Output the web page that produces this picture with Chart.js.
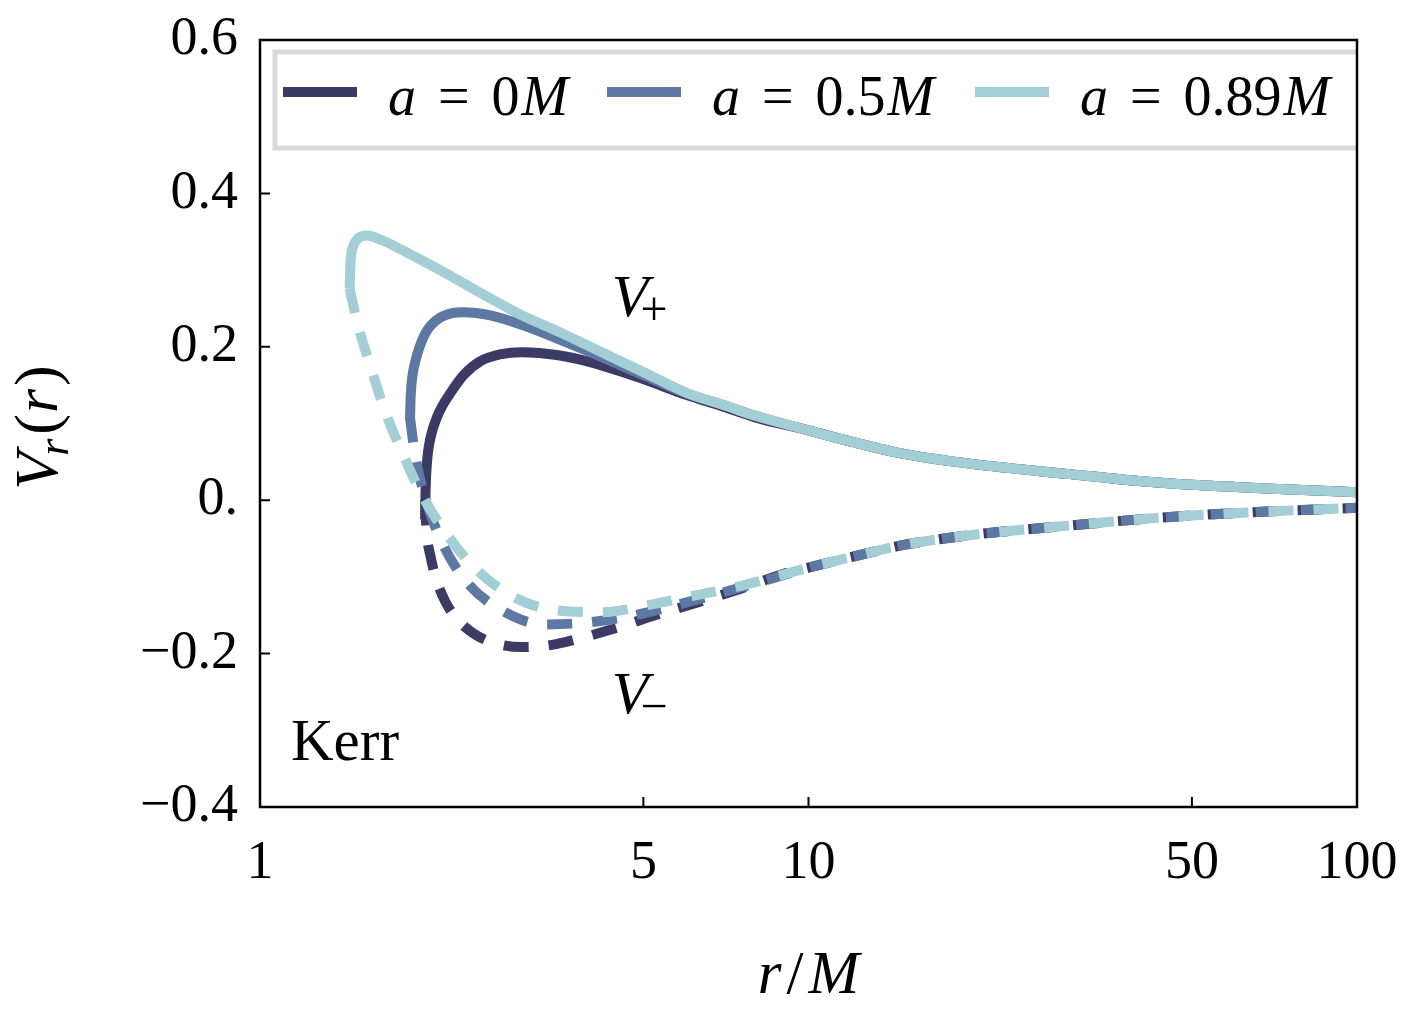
<!DOCTYPE html>
<html>
<head>
<meta charset="utf-8">
<script src="https://cdn.jsdelivr.net/npm/chart.js@4.4.1/dist/chart.umd.min.js"></script>
<style>
  html, body { margin: 0; padding: 0; background: #ffffff; }
  #chart { display: block; }
</style>
</head>
<body>
<canvas id="chart" width="1412" height="1027"></canvas>
<script>
// spins shown in the legend (units of M)
const spins = ['0', '0.5', '0.89'];
const colors = ['#3c3b66', '#5d78a2', '#a4ced6'];

// near-horizon parts (r/M, V)
const rPlus0 = [2.0, 2.003, 2.009, 2.019, 2.036, 2.062, 2.101, 2.146, 2.221, 2.35, 2.519, 2.738, 3.0, 3.5, 4, 5, 6, 7, 8];
const vPlus0 = [-0.025, 0.0065, 0.033, 0.055, 0.074, 0.091, 0.108, 0.122, 0.139, 0.163, 0.181, 0.190, 0.193, 0.189, 0.180, 0.158, 0.137, 0.122, 0.108];
const rMinus0 = [2.0, 2.01, 2.05, 2.1, 2.18, 2.3, 2.48, 2.7, 3.0, 3.3, 3.6, 4.35, 5.2, 6.3, 7.55, 9.1];
const vMinus0 = [0.0, -0.035, -0.076, -0.105, -0.133, -0.157, -0.176, -0.187, -0.1915, -0.190, -0.185, -0.169, -0.151, -0.133, -0.115, -0.095];

const rPlus05 = [1.877, 1.881, 1.888, 1.901, 1.921, 1.95, 2.015, 2.13, 2.24, 2.346, 2.63, 3.02, 3.5, 4, 5, 6, 7, 8];
const vPlus05 = [0.104, 0.130, 0.150, 0.167, 0.182, 0.198, 0.221, 0.238, 0.244, 0.245, 0.241, 0.228, 0.210, 0.193, 0.163, 0.139, 0.124, 0.110];
const rMinus05 = [1.877, 1.917, 2.016, 2.146, 2.383, 2.75, 3.3, 4.0, 4.82, 5.83, 7.0, 8.4];
const vMinus05 = [0.108, 0.059, -0.004, -0.055, -0.107, -0.143, -0.162, -0.159, -0.150, -0.1355, -0.120, -0.104];

const rPlus089 = [1.457, 1.46, 1.465, 1.478, 1.503, 1.567, 1.655, 1.852, 2.13, 2.63, 3.0, 3.52, 4, 5, 6, 7, 8];
const vPlus089 = [0.276, 0.300, 0.317, 0.331, 0.340, 0.345, 0.340, 0.323, 0.300, 0.263, 0.241, 0.219, 0.200, 0.167, 0.140, 0.124, 0.110];
const rMinus089 = [1.457, 1.503, 1.593, 1.69, 1.816, 1.974, 2.184, 2.466, 2.88, 3.42, 4.2, 5.07, 6.13, 7.4, 8.88];
const vMinus089 = [0.276, 0.232, 0.173, 0.116, 0.0625, 0.0065, -0.043, -0.0886, -0.125, -0.143, -0.146, -0.137, -0.125, -0.113, -0.098];

// far region, where the three spins overlap
const rFar = [10, 12, 15, 20, 30, 40, 50, 70, 100];
const vPlusFar = [0.091, 0.076, 0.060, 0.047, 0.034, 0.025, 0.020, 0.015, 0.0105];
const vMinusFar = [-0.088, -0.074, -0.058, -0.045, -0.033, -0.025, -0.020, -0.0145, -0.010];

// axes
const xTickValues = [1, 5, 10, 50, 100];
const xTickLabels = ['1', '5', '10', '50', '100'];
const yTickValues = [-0.4, -0.2, 0, 0.2, 0.4, 0.6];
const yTickLabels = ['\u22120.4', '\u22120.2', '0.', '0.2', '0.4', '0.6'];

const serif = '"Liberation Serif", "Times New Roman", serif';

function series(rs, vs, far) {
    const out = rs.map((r, i) => ({ x: r, y: vs[i] }));
    rFar.forEach((r, i) => out.push({ x: r, y: far[i] }));
    return out;
}

const near = [
    [rPlus0, vPlus0, rMinus0, vMinus0],
    [rPlus05, vPlus05, rMinus05, vMinus05],
    [rPlus089, vPlus089, rMinus089, vMinus089]
];

const datasets = [];
near.forEach((s, i) => {
    datasets.push({
        label: 'a = ' + spins[i] + 'M',
        data: series(s[0], s[1], vPlusFar),
        borderColor: colors[i],
        borderWidth: 10,
        order: 2 - i
    });
    datasets.push({
        label: 'V- a = ' + spins[i] + 'M',
        data: series(s[2], s[3], vMinusFar),
        borderColor: colors[i],
        borderWidth: 10,
        borderDash: [25, 20],
        order: 2 - i
    });
});

// draw a run of mixed italic / upright text, returns width
function runs(ctx, parts, x, y, draw) {
    let cx = x;
    parts.forEach(p => {
        ctx.font = (p.it ? 'italic ' : '') + p.size + 'px ' + serif;
        if (draw) ctx.fillText(p.t, cx, y + (p.dy || 0));
        cx += ctx.measureText(p.t).width + (p.gap || 0);
    });
    return cx - x;
}

const decor = {
    id: 'decor',
    afterDraw(chart) {
        const ctx = chart.ctx;
        const a = chart.chartArea;
        const xs = chart.scales.x, ys = chart.scales.y;
        ctx.save();
        ctx.fillStyle = '#000';
        ctx.textBaseline = 'alphabetic';
        ctx.textAlign = 'left';

        // legend inside the frame
        ctx.save();
        ctx.beginPath();
        ctx.rect(a.left, a.top, a.right - a.left, a.bottom - a.top);
        ctx.clip();
        ctx.fillStyle = '#fff';
        ctx.fillRect(a.left + 15, a.top + 12, a.right - a.left, 96);
        ctx.strokeStyle = '#d9d9d9';
        ctx.lineWidth = 5;
        ctx.strokeRect(a.left + 15, a.top + 12, a.right - a.left, 96);
        ctx.restore();

        const sampleX = [a.left + 23, a.left + 347, a.left + 715];
        spins.forEach((s, i) => {
            const x0 = sampleX[i];
            ctx.strokeStyle = colors[i];
            ctx.lineWidth = 10;
            ctx.beginPath();
            ctx.moveTo(x0, a.top + 52);
            ctx.lineTo(x0 + 74, a.top + 52);
            ctx.stroke();
            ctx.fillStyle = '#000';
            runs(ctx, [
                { t: 'a', it: true, size: 56, gap: 22 },
                { t: '=', size: 56, gap: 22 },
                { t: s, size: 56, gap: 2 },
                { t: 'M', it: true, size: 56 }
            ], x0 + 105, a.top + 75, true);
        });

        // V+ and V- labels
        const px = xs.getPixelForValue(4.38);
        const w0 = runs(ctx, [{ t: 'V', it: true, size: 60 }], px, 0, false);
        const yp = ys.getPixelForValue(0.240), ym = ys.getPixelForValue(-0.278);
        runs(ctx, [{ t: 'V', it: true, size: 60 }], px, yp, true);
        runs(ctx, [{ t: '+', size: 48 }], px + w0 - 8, yp + 9, true);
        runs(ctx, [{ t: 'V', it: true, size: 60 }], px, ym, true);
        runs(ctx, [{ t: '\u2212', size: 48 }], px + w0 - 8, ym + 9, true);

        // Kerr
        runs(ctx, [{ t: 'Kerr', size: 59 }], a.left + 31, a.bottom - 47, true);

        // x title
        const xt = [
            { t: 'r', it: true, size: 61, gap: 5 },
            { t: '/', size: 61, gap: 5 },
            { t: 'M', it: true, size: 61 }
        ];
        let w = runs(ctx, xt, 0, 0, false);
        runs(ctx, xt, (a.left + a.right) / 2 - w / 2, 993, true);

        // y title, rotated
        const yt = [
            { t: 'V', it: true, size: 62, gap: -4 },
            { t: 'r', it: true, size: 44, dy: 11, gap: 4 },
            { t: '(', size: 62, gap: 1 },
            { t: 'r', it: true, size: 62, gap: 3 },
            { t: ')', size: 62 }
        ];
        w = runs(ctx, yt, 0, 0, false);
        ctx.save();
        ctx.translate(57, (a.top + a.bottom) / 2 + 4);
        ctx.rotate(-Math.PI / 2);
        runs(ctx, yt, -w / 2, 0, true);
        ctx.restore();

        // frame and inward ticks
        ctx.strokeStyle = '#000';
        ctx.lineWidth = 2.5;
        ctx.strokeRect(a.left, a.top, a.right - a.left, a.bottom - a.top);
        ctx.lineWidth = 2;
        ctx.beginPath();
        yTickValues.forEach(v => {
            const y = ys.getPixelForValue(v);
            ctx.moveTo(a.left, y);
            ctx.lineTo(a.left + 10, y);
        });
        xTickValues.forEach(v => {
            const x = xs.getPixelForValue(v);
            ctx.moveTo(x, a.bottom);
            ctx.lineTo(x, a.bottom - 10);
        });
        ctx.stroke();
        ctx.restore();
    }
};

new Chart(document.getElementById('chart').getContext('2d'), {
    type: 'line',
    data: { datasets: datasets },
    options: {
        responsive: false,
        animation: false,
        layout: { padding: { top: 40, right: 55, left: 0, bottom: 0 } },
        plugins: { legend: { display: false }, tooltip: { enabled: false } },
        elements: {
            point: { radius: 0 },
            line: { cubicInterpolationMode: 'monotone', borderCapStyle: 'butt', borderJoinStyle: 'round' }
        },
        scales: {
            x: {
                type: 'logarithmic',
                min: 1,
                max: 100,
                grid: { display: false, drawTicks: false, tickLength: 0 },
                border: { display: false },
                afterBuildTicks: scale => { scale.ticks = xTickValues.map(v => ({ value: v })); },
                afterFit: scale => {
                    scale.height = 220;
                    scale.paddingLeft = 0;
                    scale.paddingRight = 0;
                },
                ticks: {
                    autoSkip: false,
                    maxRotation: 0,
                    padding: 24,
                    color: '#000',
                    font: { family: serif, size: 54 },
                    callback: (v, i) => xTickLabels[i]
                }
            },
            y: {
                type: 'linear',
                min: -0.4,
                max: 0.6,
                grid: { display: false, drawTicks: false, tickLength: 0 },
                border: { display: false },
                afterBuildTicks: scale => { scale.ticks = yTickValues.map(v => ({ value: v })); },
                afterFit: scale => {
                    scale.width = 260;
                    scale.paddingTop = 0;
                    scale.paddingBottom = 0;
                },
                ticks: {
                    padding: 22,
                    color: '#000',
                    font: { family: serif, size: 54 },
                    callback: (v, i) => yTickLabels[i]
                }
            }
        }
    },
    plugins: [decor]
});
</script>
</body>
</html>
